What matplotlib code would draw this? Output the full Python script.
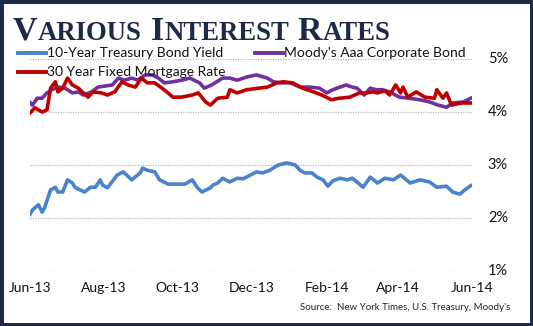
import matplotlib
matplotlib.use("Agg")
import matplotlib.pyplot as plt
from matplotlib.lines import Line2D
from matplotlib.patches import Rectangle
from matplotlib.transforms import blended_transform_factory
import pandas as pd

# ---------------- data (days after 2013-06-01, percent) ----------------
start = pd.Timestamp("2013-06-01")

treasury_days = [0, 2, 7, 10, 12, 17, 21, 23, 27, 31, 35, 37, 45, 50, 54, 58, 60, 64, 72, 77,
                 84, 91, 93, 97, 103, 107, 114, 128, 134, 138, 142, 149, 151, 155, 159, 165,
                 171, 176, 187, 192, 198, 205, 212, 219, 223, 227, 233, 237, 242, 246, 250,
                 256, 262, 266, 270, 275, 281, 287, 293, 300, 306, 314, 322, 330, 336, 344,
                 349, 355, 359, 364]
treasury_vals = [2.07, 2.15, 2.25, 2.11, 2.19, 2.53, 2.58, 2.49, 2.49, 2.72, 2.66, 2.58, 2.49,
                 2.58, 2.58, 2.72, 2.62, 2.57, 2.81, 2.87, 2.72, 2.85, 2.94, 2.90, 2.87, 2.72,
                 2.64, 2.64, 2.72, 2.58, 2.49, 2.57, 2.62, 2.66, 2.75, 2.68, 2.75, 2.74, 2.87,
                 2.85, 2.90, 3.00, 3.04, 3.00, 2.90, 2.85, 2.85, 2.77, 2.72, 2.60, 2.70, 2.75,
                 2.72, 2.75, 2.68, 2.58, 2.77, 2.66, 2.75, 2.72, 2.81, 2.66, 2.72, 2.68, 2.58,
                 2.60, 2.49, 2.45, 2.53, 2.61]

moodys_days = [0, 2, 6, 10, 14, 18, 23, 29, 35, 40, 44, 51, 56, 68, 73, 78, 84, 89, 95, 101,
               106, 111, 118, 125, 132, 140, 144, 150, 159, 165, 171, 179, 187, 196, 201,
               207, 215, 223, 231, 239, 245, 250, 256, 261, 266, 270, 276, 281, 286, 291,
               297, 305, 313, 322, 330, 337, 344, 349, 358, 364]
moodys_vals = [4.18, 4.13, 4.26, 4.26, 4.36, 4.42, 4.47, 4.45, 4.36, 4.38, 4.32, 4.38, 4.47,
               4.51, 4.64, 4.60, 4.64, 4.60, 4.70, 4.70, 4.64, 4.55, 4.57, 4.60, 4.64, 4.55,
               4.45, 4.51, 4.64, 4.64, 4.60, 4.66, 4.70, 4.64, 4.57, 4.55, 4.55, 4.47, 4.47,
               4.45, 4.36, 4.42, 4.47, 4.51, 4.47, 4.45, 4.32, 4.45, 4.42, 4.42, 4.38, 4.28,
               4.26, 4.23, 4.19, 4.13, 4.09, 4.17, 4.19, 4.26]

mortgage_days = [0, 4, 10, 14, 17, 21, 23, 27, 31, 35, 40, 44, 48, 52, 59, 64, 70, 76, 81, 87,
                 92, 97, 103, 109, 114, 118, 125, 134, 139, 145, 149, 155, 163, 165, 171, 179,
                 196, 204, 209, 217, 225, 234, 241, 249, 255, 256, 264, 264, 272, 278, 283,
                 287, 293, 297, 302, 306, 308, 312, 319, 326, 334, 336, 341, 344, 348, 356, 364]
mortgage_vals = [3.98, 4.08, 4.00, 4.04, 4.45, 4.57, 4.38, 4.45, 4.64, 4.51, 4.45, 4.36, 4.28,
                 4.38, 4.36, 4.32, 4.38, 4.57, 4.51, 4.47, 4.64, 4.55, 4.55, 4.45, 4.36, 4.28,
                 4.28, 4.32, 4.36, 4.19, 4.13, 4.26, 4.28, 4.42, 4.36, 4.42, 4.47, 4.55, 4.57,
                 4.55, 4.45, 4.38, 4.32, 4.23, 4.26, 4.26, 4.28, 4.28, 4.36, 4.36, 4.38, 4.36,
                 4.40, 4.32, 4.51, 4.36, 4.47, 4.28, 4.38, 4.28, 4.26, 4.42, 4.26, 4.36, 4.13,
                 4.17, 4.17]

x_ticks = ["2013-06-01", "2013-08-01", "2013-10-01", "2013-12-01", "2014-02-01",
           "2014-04-01", "2014-06-01"]
x_labels = ["Jun-13", "Aug-13", "Oct-13", "Dec-13", "Feb-14", "Apr-14", "Jun-14"]
y_ticks = [1, 2, 3, 4, 5]
y_labels = ["1%", "2%", "3%", "4%", "5%"]

series_names = ["10-Year Treasury Bond Yield", "Moody's Aaa Corporate Bond",
                "30 Year Fixed Mortgage Rate"]

# ---------------- figure ----------------
W, H = 533, 326
fig = plt.figure(figsize=(W / 100, H / 100), dpi=100)
fig.patch.set_facecolor("white")

NAVY = "#1c2a47"
BLUE = "#4a82cc"
PURPLE = "#7030a0"
RED = "#c00000"
TXT_FONT = ["Lato", "DejaVu Sans"]

def fx(px):
    return px / W

def fy(py):
    return 1 - py / H

ax_l, ax_r, ax_t, ax_b = 30, 472, 59, 271
ax = fig.add_axes([fx(ax_l), fy(ax_b), fx(ax_r) - fx(ax_l), fy(ax_t) - fy(ax_b)])
ax.set_facecolor("none")

def to_dates(days):
    return [start + pd.Timedelta(days=int(d)) for d in days]

ax.plot(to_dates(treasury_days), treasury_vals, color=BLUE, lw=2.6, solid_joinstyle="round")
ax.plot(to_dates(moodys_days), moodys_vals, color=PURPLE, lw=2.6, solid_joinstyle="round")
ax.plot(to_dates(mortgage_days), mortgage_vals, color=RED, lw=2.6, solid_joinstyle="round")

ax.set_xlim(pd.Timestamp(x_ticks[0]), pd.Timestamp(x_ticks[-1]))
ax.set_ylim(1, 5)
for v in y_ticks:
    ax.axhline(v, color="#b8b8b8", lw=0.9, ls=(0, (1, 1)), zorder=0)
for s in ax.spines.values():
    s.set_visible(False)
ax.set_yticks([])
ax.set_xticks(pd.to_datetime(x_ticks))
ax.set_xticklabels(x_labels, fontsize=10, family=TXT_FONT, color="#111111")
ax.tick_params(axis="x", length=0, pad=8)

tr = blended_transform_factory(fig.transFigure, ax.transData)
for v, lab in zip(y_ticks, y_labels):
    ax.text(fx(508), v, lab, transform=tr, ha="right", va="center", fontsize=10.5,
            family=TXT_FONT, color="#111111")

# ---------------- legend (manual) ----------------
leg = [(series_names[0], BLUE, 18, 53), (series_names[1], PURPLE, 255, 53),
       (series_names[2], RED, 18, 72)]
for name, col, lx, ly in leg:
    fig.add_artist(Line2D([fx(lx), fx(lx + 28)], [fy(ly), fy(ly)], color=col, lw=2.8,
                          transform=fig.transFigure))
    fig.text(fx(lx + 29), fy(ly), name, ha="left", va="center", fontsize=10,
             family=TXT_FONT, color="#111111")

# ---------------- title in small caps ----------------
pieces = [("V", 24.5), ("ARIOUS", 19.3), (" ", 0), ("I", 24.5), ("NTEREST", 19.3), (" ", 0),
          ("R", 24.5), ("ATES", 19.3)]
fig.canvas.draw()
renderer = fig.canvas.get_renderer()
xpos = 13
base_y = fy(40)
for txt, size in pieces:
    if txt == " ":
        xpos += 8
        continue
    t = fig.text(fx(xpos), base_y, txt, ha="left", va="baseline", fontsize=size,
                 fontweight="bold", family=["Liberation Serif", "DejaVu Serif"], color=NAVY)
    bb = t.get_window_extent(renderer)
    xpos += bb.width + 0.5

# ---------------- source ----------------
fig.text(fx(510), fy(307), "Source:  New York Times, U.S. Treasury, Moody's", ha="right",
         va="center", fontsize=7, family=TXT_FONT, color="#222222")

# ---------------- border ----------------
fig.add_artist(Rectangle((0, 0), 1, 1, transform=fig.transFigure, fill=False,
                         edgecolor=NAVY, lw=5))

fig.savefig("out.png", dpi=100, facecolor="white")
